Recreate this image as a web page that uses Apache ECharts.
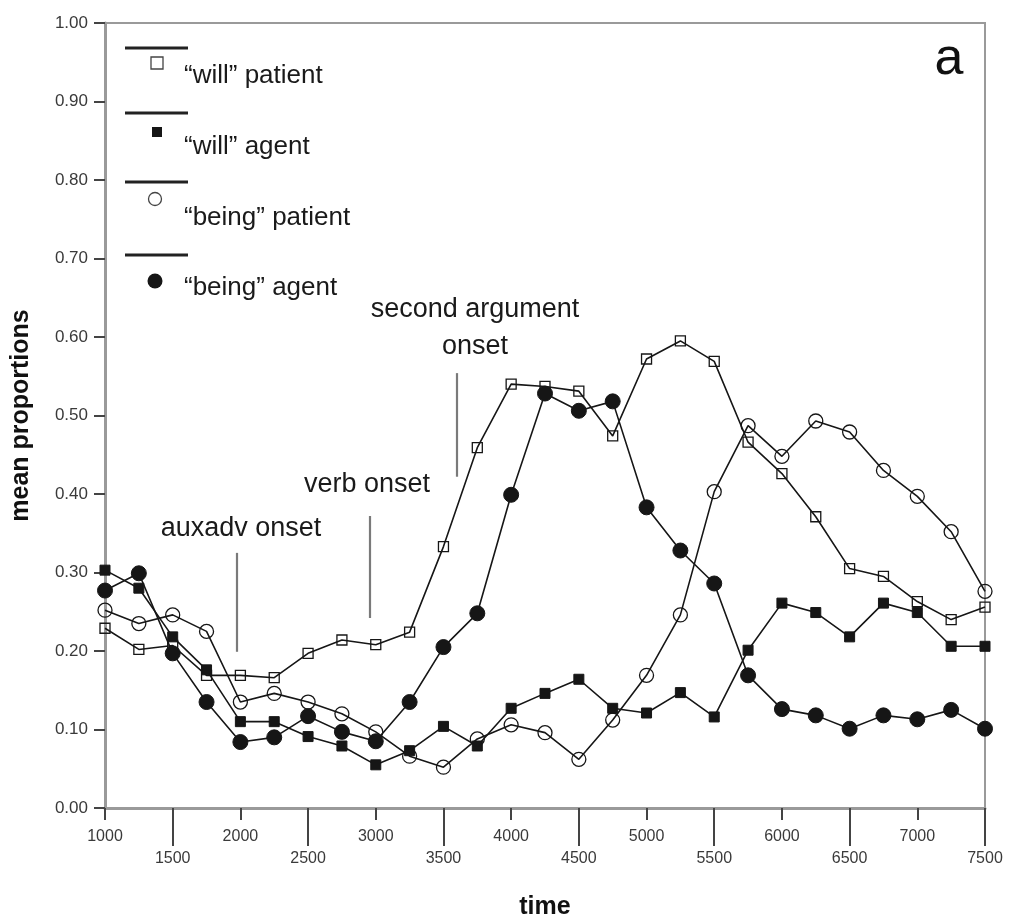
<!DOCTYPE html>
<html>
<head>
<meta charset="utf-8">
<script src="https://cdn.jsdelivr.net/npm/echarts@6/dist/echarts.min.js"></script>
<style>
  html, body { margin: 0; padding: 0; background: #fff; }
  #chart { width: 1010px; height: 919px; }
</style>
</head>
<body>
<div id="chart"></div>
<script>
// Sampling times (ms), one point every 250 ms
const times = [1000, 1250, 1500, 1750, 2000, 2250, 2500, 2750, 3000, 3250, 3500, 3750, 4000,
               4250, 4500, 4750, 5000, 5250, 5500, 5750, 6000, 6250, 6500, 6750, 7000, 7250, 7500];

// Mean proportions of looks per condition
const willPatient  = [0.229, 0.202, 0.207, 0.169, 0.169, 0.166, 0.197, 0.214, 0.208, 0.224, 0.333, 0.459, 0.540,
                      0.537, 0.531, 0.474, 0.572, 0.595, 0.569, 0.466, 0.426, 0.371, 0.305, 0.295, 0.263, 0.240, 0.256];
const willAgent    = [0.303, 0.280, 0.218, 0.176, 0.110, 0.110, 0.091, 0.079, 0.055, 0.073, 0.104, 0.079, 0.127,
                      0.146, 0.164, 0.127, 0.121, 0.147, 0.116, 0.201, 0.261, 0.249, 0.218, 0.261, 0.249, 0.206, 0.206];
const beingPatient = [0.252, 0.235, 0.246, 0.225, 0.135, 0.146, 0.135, 0.120, 0.097, 0.066, 0.052, 0.088, 0.106,
                      0.096, 0.062, 0.112, 0.169, 0.246, 0.403, 0.487, 0.448, 0.493, 0.479, 0.430, 0.397, 0.352, 0.276];
const beingAgent   = [0.277, 0.299, 0.197, 0.135, 0.084, 0.090, 0.117, 0.097, 0.085, 0.135, 0.205, 0.248, 0.399,
                      0.528, 0.506, 0.518, 0.383, 0.328, 0.286, 0.169, 0.126, 0.118, 0.101, 0.118, 0.113, 0.125, 0.101];

const seriesNames = ['\u201cwill\u201d patient', '\u201cwill\u201d agent', '\u201cbeing\u201d patient', '\u201cbeing\u201d agent'];

// Axis tick values: two staggered label rows on the time axis
const xTicksUpper = [1000, 2000, 3000, 4000, 5000, 6000, 7000];
const xTicksLower = [1500, 2500, 3500, 4500, 5500, 6500, 7500];
const yTicks = [0, 0.1, 0.2, 0.3, 0.4, 0.5, 0.6, 0.7, 0.8, 0.9, 1.0];

// Region onsets marked on the plot
const onsetTexts  = ['auxadv onset', 'verb onset', 'second argument\nonset'];
const onsetTimes  = [1975, 2957, 3600];

const FONT = 'Liberation Sans, Arial, Helvetica, sans-serif';
const INK = '#161616';
const AXIS_GREY = '#9a9a9a';

// annotation placement (data space)
const onsetSpans   = [[0.325, 0.199], [0.372, 0.242], [0.554, 0.422]];
const onsetLabelAt = [[2005, 0.356], [2935, 0.412], [3733, 0.612]];

const chart = echarts.init(document.getElementById('chart'), null, { renderer: 'canvas' });

function pairs(values) { return times.map((t, i) => [t, values[i]]); }

const openStyle = { color: 'rgba(255,255,255,0)', borderColor: INK, borderWidth: 1.3 };
const filledStyle = { color: INK, borderColor: INK, borderWidth: 1 };

function lineSeries(name, values, symbol, size, itemStyle) {
  return {
    type: 'line', name: name, data: pairs(values),
    symbol: symbol, symbolSize: size, showAllSymbol: true,
    lineStyle: { color: INK, width: 1.6 },
    itemStyle: itemStyle,
    emphasis: { disabled: true },
    silent: true, animation: false, z: 3
  };
}

// legend drawn as: rule above, symbol below, caption to the right
const legendRows = [
  { lineY: 48,  symY: 63,  textY: 76,  shape: 'rect',   fill: false },
  { lineY: 113, symY: 132, textY: 147, shape: 'rect',   fill: true },
  { lineY: 182, symY: 199, textY: 218, shape: 'circle', fill: false },
  { lineY: 255, symY: 281, textY: 288, shape: 'circle', fill: true }
];
const legendGraphics = [];
legendRows.forEach((r, i) => {
  legendGraphics.push({ type: 'line', shape: { x1: 125, y1: r.lineY, x2: 188, y2: r.lineY },
                        style: { stroke: '#222', lineWidth: 3 } });
  if (r.shape === 'rect') {
    const s = r.fill ? 10 : 12;
    legendGraphics.push({ type: 'rect', shape: { x: 157 - s / 2, y: r.symY - s / 2, width: s, height: s },
                          style: r.fill ? { fill: INK } : { fill: '#fff', stroke: '#444', lineWidth: 1.3 } });
  } else {
    legendGraphics.push({ type: 'circle', shape: { cx: 155, cy: r.symY, r: r.fill ? 7.5 : 6.5 },
                          style: r.fill ? { fill: INK } : { fill: '#fff', stroke: '#444', lineWidth: 1.3 } });
  }
  legendGraphics.push({ type: 'text', x: 184, y: r.textY,
                        style: { text: seriesNames[i], font: '26px ' + FONT, fill: '#1a1a1a',
                                 textAlign: 'left', textVerticalAlign: 'middle' } });
});

const tickLabel = { fontFamily: FONT, fontSize: 16, color: '#3a3a3a', formatter: v => String(v) };

const option = {
  backgroundColor: '#fff',
  animation: false,
  grid: { left: 105, right: 25, top: 23, bottom: 111, show: true, borderColor: AXIS_GREY, borderWidth: 2,
          backgroundColor: 'transparent', containLabel: false, outerBoundsMode: 'none' },
  xAxis: [
    {
      type: 'value', min: 1000, max: 7500, interval: 500,
      name: 'time', nameLocation: 'middle', nameGap: 87,
      nameTextStyle: { fontFamily: FONT, fontSize: 25, fontWeight: 'bold', color: '#111' },
      axisLine: { show: true, onZero: false, lineStyle: { color: AXIS_GREY, width: 3 } },
      axisTick: { show: true, length: 12, customValues: xTicksUpper, lineStyle: { color: '#444', width: 2 } },
      axisLabel: Object.assign({ customValues: xTicksUpper, margin: 21 }, tickLabel),
      splitLine: { show: false }
    },
    {
      type: 'value', min: 1000, max: 7500, interval: 500, position: 'bottom',
      axisLine: { show: false },
      axisTick: { show: true, length: 38, customValues: xTicksLower, lineStyle: { color: '#444', width: 2 } },
      axisLabel: Object.assign({ customValues: xTicksLower, margin: 43 }, tickLabel),
      splitLine: { show: false }
    }
  ],
  yAxis: {
    type: 'value', min: 0, max: 1, interval: 0.1,
    name: 'mean proportions', nameLocation: 'middle', nameGap: 71,
    nameTextStyle: { fontFamily: FONT, fontSize: 25, fontWeight: 'bold', color: '#111' },
    axisLine: { show: true, lineStyle: { color: AXIS_GREY, width: 3 } },
    axisTick: { show: true, length: 11, customValues: yTicks, lineStyle: { color: '#444', width: 2 } },
    axisLabel: { margin: 17, fontFamily: FONT, fontSize: 17, color: '#3a3a3a',
                 formatter: v => v.toFixed(2) },
    splitLine: { show: false }
  },
  graphic: legendGraphics.concat([
    { type: 'text', x: 949, y: 60,
      style: { text: 'a', font: '52px ' + FONT, fill: '#111', textAlign: 'center', textVerticalAlign: 'middle' } }
  ]),
  series: [
    lineSeries(seriesNames[0], willPatient, 'rect', 10, openStyle),
    lineSeries(seriesNames[1], willAgent, 'rect', 10, filledStyle),
    lineSeries(seriesNames[2], beingPatient, 'circle', 14, openStyle),
    lineSeries(seriesNames[3], beingAgent, 'circle', 15, filledStyle),
    {
      // onset markers and their captions
      type: 'scatter', name: 'onsets', symbolSize: 0, silent: true, animation: false,
      itemStyle: { opacity: 1 },
      data: onsetTexts.map((t, i) => ({ name: t, value: onsetLabelAt[i] })),
      label: { show: true, position: 'inside', formatter: p => p.name, textBorderWidth: 0,
               fontFamily: FONT, fontSize: 27, lineHeight: 37, color: '#1a1a1a', align: 'center' },
      markLine: {
        silent: true, symbol: 'none', animation: false,
        label: { show: false },
        lineStyle: { color: '#7a7a7a', width: 2.2, type: 'solid' },
        data: onsetTimes.map((t, i) => [{ coord: [t, onsetSpans[i][0]] }, { coord: [t, onsetSpans[i][1]] }])
      }
    }
  ]
};

chart.setOption(option);
</script>
</body>
</html>
